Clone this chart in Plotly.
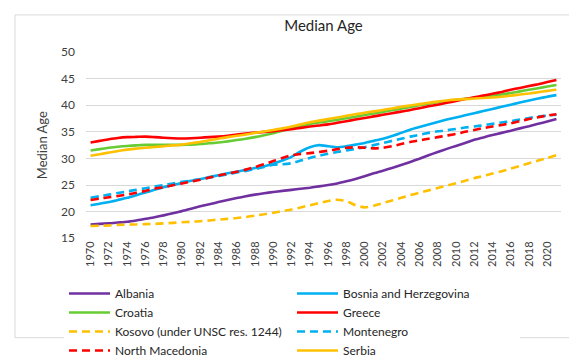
import plotly.graph_objects as go

years = list(range(1970, 2022))

albania = [17.6, 17.7, 17.8, 17.95, 18.1, 18.35, 18.65, 18.95, 19.3, 19.7,
           20.1, 20.55, 21.0, 21.4, 21.8, 22.2, 22.55, 22.9, 23.2, 23.45,
           23.7, 23.9, 24.1, 24.3, 24.5, 24.75, 25.0, 25.3, 25.7, 26.15,
           26.65, 27.2, 27.7, 28.2, 28.75, 29.35, 29.95, 30.6, 31.2, 31.8,
           32.35, 32.9, 33.5, 33.95, 34.4, 34.8, 35.2, 35.65, 36.05, 36.5,
           36.95, 37.4]
bosnia = [21.2, 21.5, 21.8, 22.2, 22.6, 23.1, 23.6, 24.1, 24.6, 25.0,
          25.4, 25.8, 26.1, 26.5, 26.85, 27.2, 27.5, 27.85, 28.2, 28.55,
          29.0, 29.6, 30.3, 31.3, 32.1, 32.5, 32.3, 32.1, 32.3, 32.6,
          32.9, 33.3, 33.7, 34.2, 34.8, 35.4, 35.9, 36.4, 36.85, 37.3,
          37.7, 38.1, 38.5, 38.9, 39.3, 39.7, 40.1, 40.5, 40.9, 41.25,
          41.6, 41.9]
croatia = [31.5, 31.75, 32.0, 32.2, 32.35, 32.45, 32.55, 32.55, 32.55, 32.55,
           32.55, 32.6, 32.7, 32.85, 33.0, 33.2, 33.45, 33.7, 34.0, 34.35,
           34.75, 35.2, 35.7, 36.1, 36.5, 36.75, 37.0, 37.25, 37.55, 37.85,
           38.15, 38.45, 38.75, 39.05, 39.35, 39.65, 40.0, 40.3, 40.55, 40.8,
           41.0, 41.2, 41.4, 41.55, 41.75, 42.0, 42.3, 42.6, 42.9, 43.2,
           43.5, 43.8]
greece = [33.0, 33.3, 33.6, 33.85, 34.0, 34.05, 34.1, 34.0, 33.9, 33.8,
          33.75, 33.8, 33.9, 34.0, 34.1, 34.25, 34.5, 34.7, 34.85, 35.0,
          35.1, 35.3, 35.5, 35.75, 36.0, 36.2, 36.4, 36.7, 37.0, 37.3,
          37.6, 37.9, 38.2, 38.5, 38.8, 39.1, 39.45, 39.8, 40.1, 40.45,
          40.8, 41.15, 41.5, 41.8, 42.15, 42.5, 42.9, 43.25, 43.6, 43.95,
          44.35, 44.75]
kosovo = [17.3, 17.35, 17.4, 17.5, 17.55, 17.6, 17.65, 17.7, 17.8, 17.9,
          18.0, 18.1, 18.2, 18.35, 18.5, 18.65, 18.8, 19.0, 19.25, 19.5,
          19.8, 20.1, 20.4, 20.8, 21.2, 21.6, 22.0, 22.25, 22.0, 21.2,
          20.8, 21.1, 21.6, 22.1, 22.6, 23.1, 23.55, 24.0, 24.45, 24.9,
          25.35, 25.8, 26.3, 26.7, 27.15, 27.6, 28.1, 28.6, 29.1, 29.6,
          30.1, 30.6]
montenegro = [22.6, 22.9, 23.2, 23.5, 23.8, 24.1, 24.4, 24.7, 25.0, 25.3,
              25.6, 25.85, 26.1, 26.4, 26.7, 27.0, 27.35, 27.65, 28.0, 28.4,
              28.8, 28.9, 29.1, 29.6, 30.1, 30.5, 30.9, 31.2, 31.5, 31.8,
              32.1, 32.5, 32.9, 33.3, 33.7, 34.1, 34.45, 34.8, 35.1, 35.3,
              35.55, 35.8, 36.0, 36.25, 36.5, 36.75, 37.0, 37.3, 37.6, 37.85,
              38.05, 38.2]
north_macedonia = [22.2, 22.45, 22.7, 22.95, 23.2, 23.55, 23.9, 24.3, 24.6, 24.95,
                   25.3, 25.65, 26.0, 26.4, 26.8, 27.15, 27.5, 27.9, 28.4, 28.9,
                   29.5, 30.1, 30.6, 30.85, 31.0, 31.2, 31.45, 31.75, 32.0, 32.1,
                   32.0, 31.9, 32.0, 32.3, 32.7, 33.1, 33.4, 33.7, 34.0, 34.3,
                   34.6, 35.0, 35.35, 35.7, 36.0, 36.3, 36.6, 37.0, 37.4, 37.75,
                   38.05, 38.3]
serbia = [30.5, 30.8, 31.1, 31.4, 31.65, 31.85, 32.0, 32.15, 32.3, 32.45,
          32.6, 32.85, 33.1, 33.4, 33.7, 34.0, 34.25, 34.5, 34.8, 35.05,
          35.35, 35.65, 36.0, 36.4, 36.8, 37.1, 37.4, 37.7, 38.0, 38.3,
          38.6, 38.85, 39.1, 39.4, 39.7, 39.95, 40.2, 40.45, 40.7, 40.9,
          41.05, 41.15, 41.25, 41.35, 41.45, 41.6, 41.8, 42.0, 42.2, 42.45,
          42.7, 42.9]

y_ticks = [15, 20, 25, 30, 35, 40, 45, 50]
x_ticks = list(range(1970, 2021, 2))

series = [
    ("Albania", albania, "#7030A0", "solid"),
    ("Bosnia and Herzegovina", bosnia, "#00B0F0", "solid"),
    ("Croatia", croatia, "#66CC33", "solid"),
    ("Greece", greece, "#FF0000", "solid"),
    ("Kosovo (under UNSC res. 1244)", kosovo, "#FFC000", "8px,5px"),
    ("Montenegro", montenegro, "#00B0F0", "8px,5px"),
    ("North Macedonia", north_macedonia, "#FF0000", "8px,5px"),
    ("Serbia", serbia, "#FFC000", "solid"),
]

fig = go.Figure()
for name, vals, color, dash in series:
    fig.add_trace(go.Scatter(
        x=years, y=vals, mode="lines", name=name,
        line=dict(color=color, width=2.6, dash=dash, shape="spline", smoothing=0.6),
    ))

FONT = "Lato, 'Noto Sans', sans-serif"

fig.update_layout(
    width=577, height=363,
    margin=dict(l=78, r=24, t=44, b=113),
    paper_bgcolor="white", plot_bgcolor="white",
    font=dict(family=FONT, color="#404040", size=12),
    title=dict(text="Median Age", x=(78 + 553) / 2 / 577, xanchor="center",
               y=1 - 18 / 363, yanchor="middle",
               font=dict(size=15, color="#262626", family=FONT)),
    xaxis=dict(
        range=[1969.5, 2021.5], tickmode="array", tickvals=x_ticks,
        ticktext=[str(v) for v in x_ticks], tickangle=-90,
        showgrid=False, zeroline=False, showline=False, ticks="",
        tickfont=dict(size=11, color="#404040"), fixedrange=True,
    ),
    yaxis=dict(
        range=[15, 50], tickmode="array", tickvals=y_ticks,
        showgrid=True, gridcolor="#D9D9D9", gridwidth=1, zeroline=False,
        showline=False, ticks="", tickfont=dict(size=12, color="#404040"),
        ticklabelstandoff=10,
        title=dict(text="Median Age", font=dict(size=13, color="#404040"), standoff=10),
        fixedrange=True,
    ),
    legend=dict(
        orientation="h", xref="container", yref="container",
        x=56 / 577, xanchor="left", y=1 - 271 / 363, yanchor="top",
        entrywidth=172, entrywidthmode="pixels",
        font=dict(size=12, color="#262626", family=FONT),
        itemwidth=41, traceorder="normal",
    ),
    shapes=[dict(type="rect", xref="paper", yref="paper",
                 x0=(7 - 78) / 475, x1=(570 - 78) / 475,
                 y0=-(360 - 250) / 206, y1=1 + (44 - 3) / 206,
                 line=dict(color="#D9D9D9", width=1), fillcolor="rgba(0,0,0,0)",
                 layer="above")],
    showlegend=True,
)

fig.write_html("out.html")
